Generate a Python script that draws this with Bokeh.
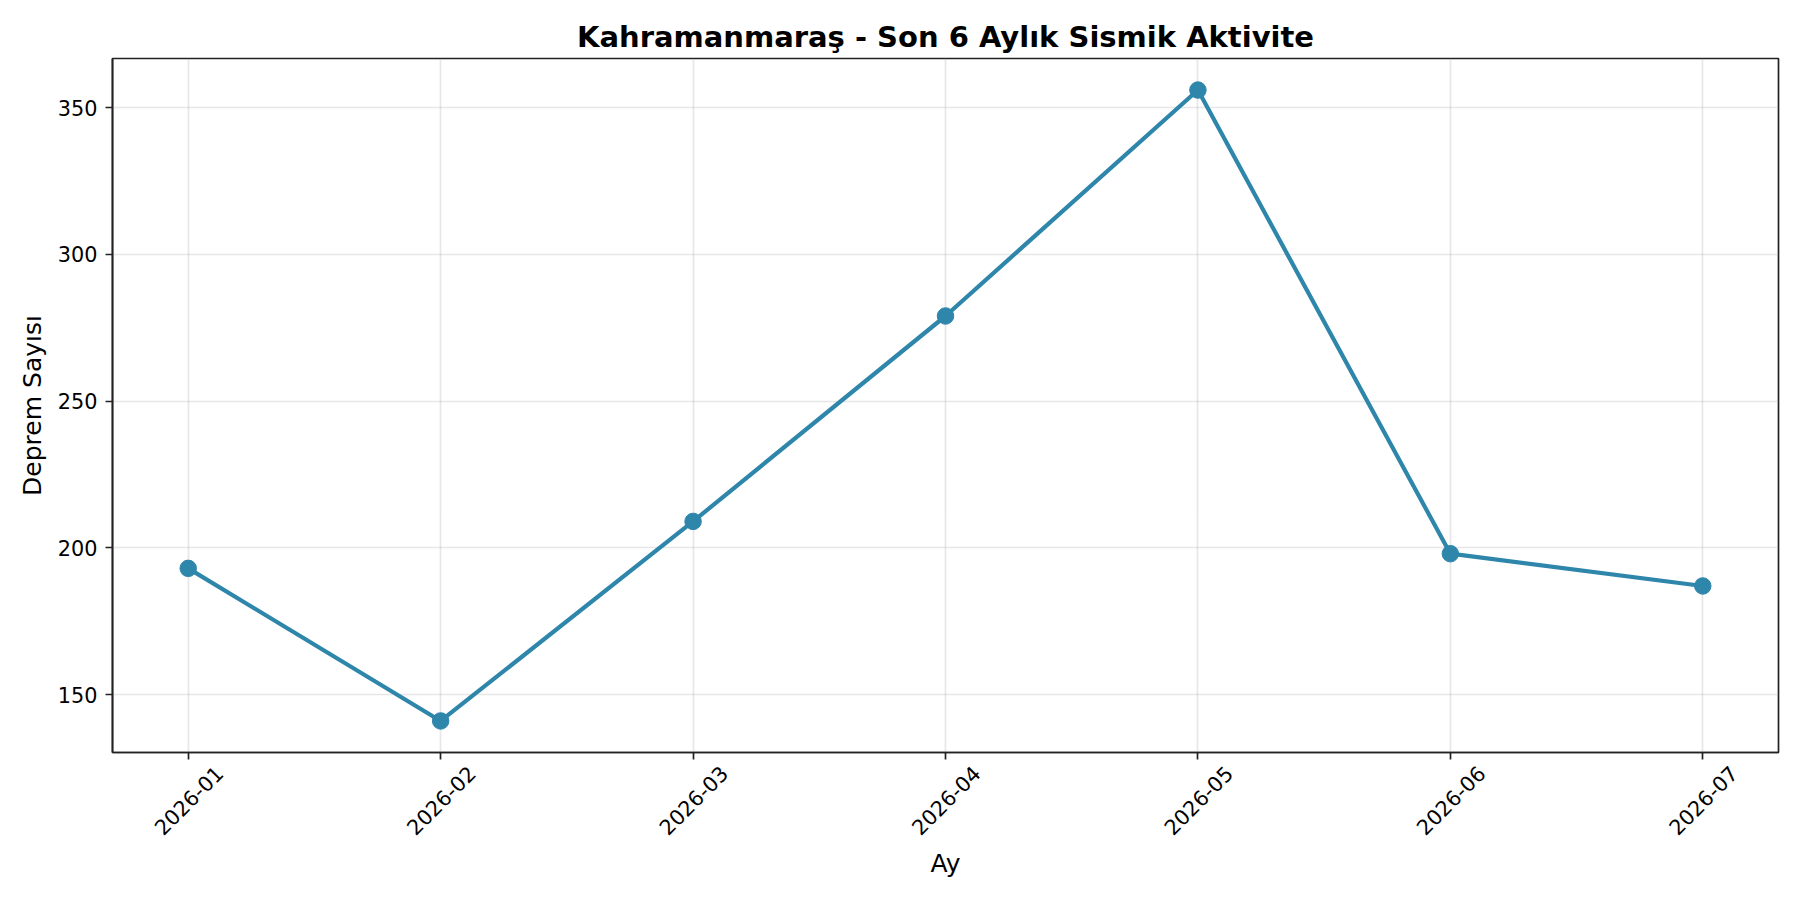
from math import pi
from bokeh.plotting import figure
from bokeh.models import Range1d, FixedTicker, ColumnDataSource, LinearAxis
from bokeh.embed import file_html
from bokeh.resources import INLINE

# ---- data ----
months = ["2026-01", "2026-02", "2026-03", "2026-04", "2026-05", "2026-06", "2026-07"]
counts = [193, 141, 209, 279, 356, 198, 187]
y_ticks = [150, 200, 250, 300, 350]
title_text = "Kahramanmaraş - Son 6 Aylık Sismik Aktivite"
x_label = "Ay"
y_label = "Deprem Sayısı"

LINE_COLOR = "#2E86AB"
FONT = "DejaVu Sans"
FRAME_W = 1666

x_idx = list(range(len(months)))
src = ColumnDataSource(dict(x=x_idx, y=counts, month=months))

# matplotlib-like 5% auto margins
xpad = 0.05 * (len(months) - 1)
ypad = 0.05 * (max(counts) - min(counts))
x_lo, x_hi = -xpad, len(months) - 1 + xpad
y_lo, y_hi = min(counts) - ypad, max(counts) + ypad

p = figure(
    frame_width=FRAME_W, frame_height=694,
    min_border_left=112, min_border_right=14, min_border_top=58, min_border_bottom=140,
    x_range=Range1d(x_lo, x_hi),
    y_range=Range1d(y_lo, y_hi),
    output_backend="svg", toolbar_location=None,
    title=title_text,
)
p.background_fill_color = "white"
p.border_fill_color = "white"

p.title.text_font = FONT
p.title.text_font_size = "29px"
p.title.text_font_style = "bold"
p.title.align = "center"
p.title.text_color = "black"
p.title.standoff = 10

p.outline_line_color = "#222222"
p.outline_line_width = 1.7
p.outline_line_alpha = 1.0

# grid
for g in (p.xgrid, p.ygrid):
    g.grid_line_color = "#b0b0b0"
    g.grid_line_alpha = 0.3
    g.grid_line_width = 1.7

# label axis: rotated month labels, shifted so they look centred on the ticks
shift_px = 31
shift = shift_px * (x_hi - x_lo) / FRAME_W
p.extra_x_ranges = {"lab": Range1d(x_lo - shift, x_hi - shift)}
lab_axis = LinearAxis(x_range_name="lab")
p.add_layout(lab_axis, "below")

# axes
p.xaxis.ticker = FixedTicker(ticks=x_idx)
p.xaxis.major_label_overrides = {i: m for i, m in zip(x_idx, months)}
p.xaxis.major_label_orientation = pi / 4
p.yaxis.ticker = FixedTicker(ticks=y_ticks)
p.yaxis.axis_label = y_label

for ax in (p.xaxis[0], lab_axis, p.yaxis[0]):
    ax.axis_line_color = "#222222"
    ax.axis_line_width = 1.7
    ax.major_tick_line_color = "#222222"
    ax.major_tick_line_width = 1.7
    ax.major_tick_in = 0
    ax.major_tick_out = 7
    ax.minor_tick_line_color = None
    ax.major_label_text_font = FONT
    ax.major_label_text_font_size = "20.8px"
    ax.major_label_text_color = "black"
    ax.major_label_standoff = 8
    ax.axis_label_text_font = FONT
    ax.axis_label_text_font_size = "25px"
    ax.axis_label_text_font_style = "normal"
    ax.axis_label_text_color = "black"
    ax.axis_label_standoff = 8

# main x axis: line + ticks only
p.xaxis[0].major_label_text_color = None
p.xaxis[0].major_label_standoff = 0
# label axis: labels + axis title only
lab_axis.axis_line_color = None
lab_axis.major_tick_line_color = None
lab_axis.major_tick_out = 0
lab_axis.major_label_standoff = 10
lab_axis.axis_label = x_label
lab_axis.axis_label_standoff = 4

p.line("x", "y", source=src, line_color=LINE_COLOR, line_width=4.2)
p.scatter("x", "y", source=src, size=16.5, fill_color=LINE_COLOR, line_color=LINE_COLOR)

open("out.html", "w").write(file_html(p, INLINE))
